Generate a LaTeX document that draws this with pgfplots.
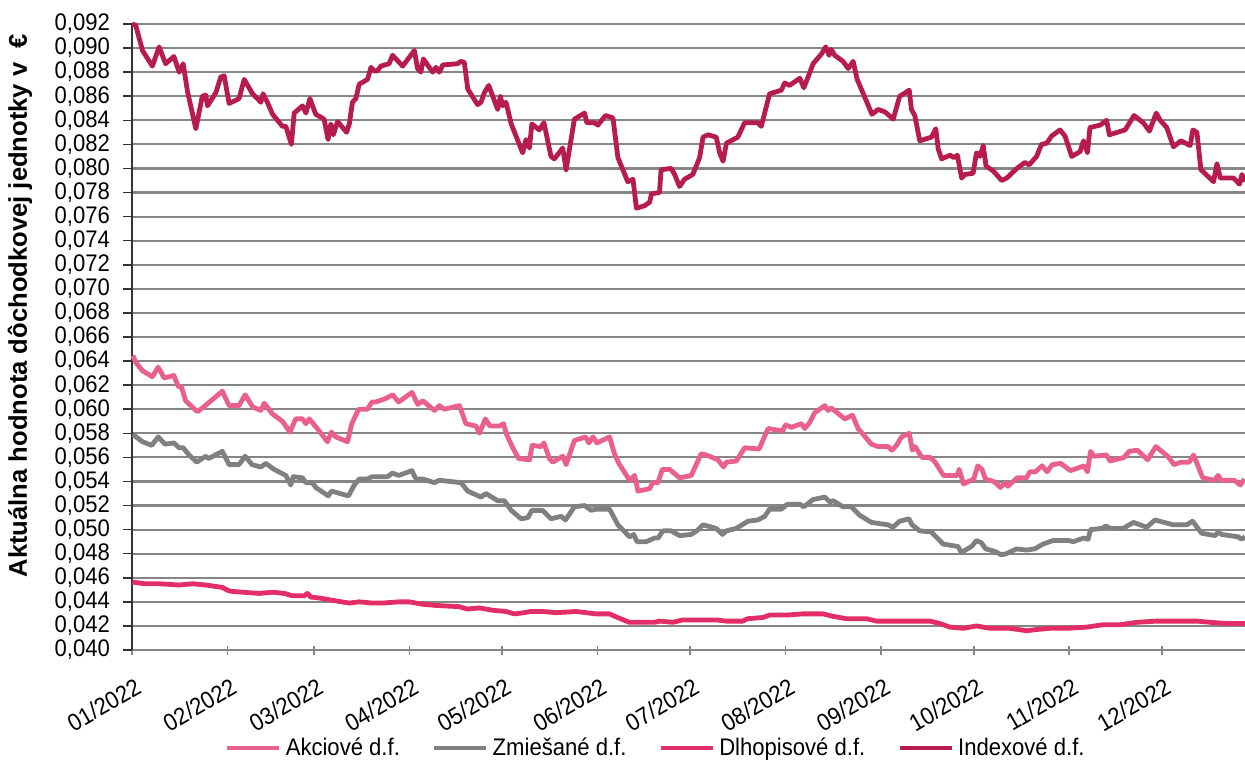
\documentclass[border=0pt]{standalone}
\usepackage{fontspec}
\setmainfont{Liberation Sans}[FakeStretch=0.92]
\newfontfamily\lblfont{Liberation Sans}
\usepackage{pgfplots}
\pgfplotsset{compat=1.18}
\definecolor{akc}{RGB}{234,96,140}
\definecolor{zmi}{RGB}{128,128,128}
\definecolor{dlh}{RGB}{226,45,102}
\definecolor{idx}{RGB}{183,28,76}
\definecolor{gridc}{RGB}{134,134,134}
\newcommand{\cf}{\fontsize{12}{14}\selectfont}
\begin{document}
\begin{tikzpicture}
\begin{axis}[
  scale only axis, width=556.5pt, height=313pt,
  xmin=0, xmax=361, ymin=0.040, ymax=0.092,
  clip=false,
  axis x line*=bottom, axis y line*=left,
  x axis line style={draw=gridc, line width=1pt},
  y axis line style={draw=black!80, line width=0.8pt},
  xtick={0,31,59,90,120,151,181,212,243,273,304,334},
  xticklabels={01/2022,02/2022,03/2022,04/2022,05/2022,06/2022,07/2022,08/2022,09/2022,10/2022,11/2022,12/2022},
  ytick distance=0.002,
  scaled y ticks=false,
  ymajorgrids, major grid style={draw=gridc, line width=1.1pt},
  tick align=outside, major tick length=4.5pt,
  x tick style={draw=gridc, line width=0.8pt, yshift=2.2pt},
  y tick style={draw=black!80, line width=0.8pt},
  xticklabel style={yshift=-7.5pt, xshift=1.5pt, rotate=30, anchor=north east, font=\cf, inner sep=1pt},
  yticklabel style={xshift=-3pt, font=\cf, /pgf/number format/.cd, fixed, fixed zerofill, precision=3, use comma, assume math mode=true},
  ylabel={\bfseries Aktuálna hodnota dôchodkovej jednotky v\ \ €},
  ylabel style={font=\lblfont\fontsize{12.8}{15}\selectfont, at={(axis description cs:-0.1006,0.55)}, anchor=center},
  legend columns=4,
  legend cell align=left,
  legend style={draw=none, fill=none, font=\cf, at={(axis description cs:0.4715,-0.1565)}, anchor=center,
    /tikz/every even column/.append style={column sep=14pt}},
  legend image code/.code={\draw[#1] (0pt,0pt) -- (26pt,0pt);},
  every axis plot/.append style={line width=2.4pt, line join=round},
]
\addplot[akc] coordinates {
(0.3,0.06446)(1.2,0.0639)(3.4,0.0632)(6.6,0.0627)(8.5,0.0635)(10.4,0.0626)(13.6,0.0628)(15.0,0.0619)(16.1,0.0618)(17.4,0.0607)(21.2,0.0598)(22.8,0.0601)(26.1,0.0608)(29.3,0.0615)(31.5,0.0603)(34.7,0.0603)(36.7,0.0612)(39.1,0.0602)(41.8,0.0599)(42.9,0.0605)(45.6,0.0596)(48.8,0.0590)(51.2,0.0581)(53.1,0.0592)(55.3,0.0592)(56.4,0.0588)(57.5,0.0592)(60.7,0.0582)(63.4,0.0573)(64.7,0.0581)(66.1,0.0577)(69.9,0.0573)(71.3,0.0588)(73.5,0.0600)(76.4,0.0600)(77.8,0.0606)(79.1,0.0606)(82.4,0.0609)(84.5,0.0612)(86.5,0.0606)(90.8,0.0614)(92.7,0.0604)(94.3,0.0607)(98.1,0.0599)(99.7,0.0603)(101.3,0.0600)(106.2,0.0603)(108.3,0.0588)(111.6,0.0586)(112.7,0.0580)(114.6,0.0592)(116.1,0.0586)
(119.2,0.0586)(120.5,0.0588)(121.5,0.0579)(123.5,0.0568)(125.4,0.0559)(128.9,0.0558)(129.8,0.0570)(132.7,0.0569)(133.6,0.0572)(135.4,0.0559)(136.5,0.0556)(139.7,0.0561)(140.8,0.0554)(143.5,0.0574)(147.1,0.0577)(148.2,0.0572)(149.5,0.0577)(150.8,0.0572)(154.9,0.0577)(156.5,0.0563)(157.9,0.0555)(161.4,0.0541)(163.0,0.0545)(164.1,0.0532)(167.9,0.0534)(168.9,0.0539)(170.6,0.0539)(172.0,0.0550)(174.4,0.0550)(177.6,0.0543)(181.4,0.0545)(183.0,0.0554)(184.6,0.0563)(186.3,0.0562)(190.0,0.0558)(191.9,0.0552)(192.8,0.0556)(196.0,0.0557)(198.7,0.0568)(203.4,0.0567)(206.3,0.0584)(211.0,0.0582)(212.0,0.0587)(213.9,0.0585)(217.1,0.0588)(218.2,0.0584)(219.8,0.0589)(221.4,0.0597)(224.7,0.0603)(225.8,0.0599)(226.8,0.0601)(231.2,0.0592)(233.7,0.0595)(235.5,0.0584)(239.8,0.0571)(242.0,0.0569)
(245.2,0.0569)(246.4,0.0566)(248.0,0.0570)(249.6,0.0577)(252.1,0.0580)(253.1,0.0566)(254.0,0.0569)(256.2,0.0560)(258.9,0.0560)(260.5,0.0556)(263.2,0.0545)(267.6,0.0545)(268.3,0.0550)(269.7,0.0538)(273.0,0.0542)(274.3,0.0553)(275.7,0.0550)(276.8,0.0542)(279.5,0.0540)(281.7,0.0535)(283.3,0.0539)(284.1,0.0536)(287.1,0.0543)(290.1,0.0543)(291.2,0.0548)(293.0,0.0548)(295.2,0.0553)(296.8,0.0548)(298.5,0.0554)(301.2,0.0555)(304.4,0.0549)(308.8,0.0553)(309.9,0.0548)(310.9,0.0565)(312.0,0.0561)(316.1,0.0562)(317.2,0.0557)(321.8,0.0560)(323.4,0.0565)(326.1,0.0566)(329.4,0.0558)(332.1,0.0569)(335.9,0.0561)(338.0,0.0554)(340.2,0.0556)(342.9,0.0556)(344.3,0.0562)(347.3,0.0543)(351.0,0.0541)(352.3,0.0545)(353.2,0.0541)(357.5,0.0541)(359.5,0.0537)(360.8,0.0542)
};
\addlegendentry{Akciové d.f.}
\addplot[zmi] coordinates {
(0.3,0.0579)(3.4,0.0573)(6.4,0.0570)(8.5,0.0577)(10.7,0.0571)(13.6,0.0572)(15.3,0.0568)(16.6,0.0568)(18.5,0.0562)(21.0,0.0556)(23.9,0.0561)(24.8,0.0559)(29.3,0.0565)(31.5,0.0554)(34.7,0.0554)(36.7,0.0561)(38.9,0.0554)(41.8,0.0552)(43.4,0.0555)(46.1,0.0550)(49.9,0.0545)(51.5,0.0537)(52.3,0.0544)(55.3,0.0543)(56.4,0.0539)(58.5,0.0539)(59.6,0.0535)(63.7,0.0528)(64.7,0.0532)(66.1,0.0531)(70.2,0.0528)(72.1,0.0537)(73.7,0.0542)(76.4,0.0542)(77.8,0.0544)(82.9,0.0544)(84.5,0.0547)(86.5,0.0545)(90.8,0.0549)(92.1,0.0542)(94.3,0.0542)(98.1,0.0539)(99.7,0.0541)(106.7,0.0539)(108.9,0.0532)(113.2,0.0527)(114.8,0.0530)(118.6,0.0524)
(120.8,0.0524)(123.0,0.0516)(126.2,0.0509)(128.4,0.0510)(129.7,0.0516)(133.2,0.0516)(135.9,0.0509)(139.2,0.0511)(140.6,0.0508)(143.5,0.0519)(146.8,0.0520)(148.9,0.0516)(150.5,0.0517)(154.9,0.0517)(157.6,0.0504)(161.4,0.0494)(162.7,0.0496)(163.8,0.0490)(166.8,0.0490)(169.5,0.0493)(170.6,0.0493)(172.2,0.0499)(174.9,0.0499)(177.6,0.0495)(181.4,0.0496)(183.2,0.0499)(185.2,0.0504)(189.5,0.0501)(191.5,0.0496)(192.8,0.0499)(196.0,0.0501)(199.8,0.0507)(203.0,0.0508)(205.2,0.0511)(206.8,0.0517)(210.6,0.0517)(212.5,0.0521)(216.6,0.0521)(217.9,0.0519)(220.9,0.0525)(224.7,0.0527)(226.3,0.0523)(227.4,0.0524)(230.6,0.0519)(233.3,0.0519)(236.0,0.0512)(239.8,0.0506)(242.5,0.0505)
(245.2,0.0504)(246.8,0.0502)(249.0,0.0507)(252.0,0.0509)(253.0,0.0504)(255.5,0.0499)(259.3,0.0498)(260.4,0.0495)(263.1,0.0488)(267.9,0.0486)(269.0,0.0481)(272.3,0.0486)(273.9,0.0491)(275.5,0.0489)(276.9,0.0484)(279.8,0.0482)(282.0,0.0479)(283.6,0.0480)(286.9,0.0484)(290.1,0.0483)(292.8,0.0484)(295.5,0.0488)(298.8,0.0491)(303.6,0.0491)(305.3,0.0490)(308.7,0.0493)(310.1,0.0492)(310.9,0.0500)(314.5,0.0501)(315.9,0.0503)(317.2,0.0501)(321.5,0.0501)(324.8,0.0506)(329.1,0.0502)(331.8,0.0508)(337.7,0.0504)(342.1,0.0504)(344.0,0.0507)(346.9,0.0497)(351.3,0.0495)(352.3,0.0498)(353.4,0.0496)(358.8,0.0494)(359.9,0.0492)(361.0,0.0494)
};
\addlegendentry{Zmiešané d.f.}
\addplot[dlh] coordinates {
(0.1,0.04564)(4.4,0.0455)(8.8,0.0455)(15.3,0.0454)(19.6,0.0455)(23.9,0.0454)(29.3,0.0452)(31.5,0.0449)(35.8,0.0448)(41.2,0.0447)(45.6,0.0448)(49.4,0.0447)(52.1,0.0445)(55.8,0.0445)(56.9,0.0447)(58.0,0.0444)(61.3,0.0443)(65.6,0.0441)(70.5,0.0439)(73.7,0.0440)(78.0,0.0439)(81.3,0.0439)(86.7,0.0440)(89.9,0.0440)(94.3,0.0438)(98.6,0.0437)(106.1,0.0436)(108.8,0.0434)(112.6,0.0435)(117.0,0.0433)(121.3,0.0432)(124.0,0.0430)(127.2,0.0431)(129.4,0.0432)(133.2,0.0432)(137.5,0.0431)(144.0,0.0432)(150.5,0.0430)(154.8,0.0430)(157.5,0.0427)(161.3,0.0423)(165.7,0.0423)(169.4,0.0423)(171.1,0.0424)(175.4,0.0423)(178.6,0.0425)(184.1,0.0425)(189.5,0.0425)(192.7,0.0424)(198.1,0.0424)(199.7,0.0426)(204.6,0.0427)(206.8,0.0429)(212.2,0.0429)(217.6,0.0430)(224.1,0.0430)(227.3,0.0428)(231.7,0.0426)(235.5,0.0426)(238.2,0.0426)(241.5,0.0424)(248.0,0.0424)(254.4,0.0424)(258.8,0.0424)(262.0,0.0422)(265.3,0.0419)(269.6,0.0418)(273.9,0.0420)(278.3,0.0418)(284.7,0.0418)(290.2,0.0416)(293.4,0.0417)(297.7,0.0418)(303.2,0.0418)(309.6,0.0419)(315.0,0.0421)(320.5,0.0421)(325.9,0.0423)(332.4,0.0424)(337.8,0.0424)(345.4,0.0424)(349.7,0.0423)(355.2,0.0422)(361.0,0.0422)
};
\addlegendentry{Dlhopisové d.f.}
\addplot[idx] coordinates {
(0,0.0920)(1.2,0.0919)(3.4,0.0898)(6.6,0.0885)(8.8,0.0901)(10.9,0.0887)(13.6,0.0893)(15.3,0.0880)(16.6,0.0887)(18.0,0.0864)(20.7,0.0833)(22.8,0.0860)(23.9,0.0861)(24.5,0.0852)(27.2,0.0863)(28.8,0.0876)(29.9,0.0877)(31.5,0.0854)(34.7,0.0858)(36.4,0.0874)(39.1,0.0862)(41.8,0.0855)(42.5,0.0862)(43.9,0.0855)(45.6,0.0845)(48.8,0.0835)(49.9,0.0835)(51.7,0.0820)(52.6,0.0846)(55.3,0.0852)(56.4,0.0846)(57.7,0.0858)(59.6,0.0845)(62.3,0.0841)(63.6,0.0824)(64.5,0.0837)(65.3,0.0828)(66.7,0.0839)(69.6,0.0830)(70.5,0.0837)(71.5,0.0855)(72.6,0.0858)(73.7,0.0870)(76.4,0.0874)(77.5,0.0884)(78.6,0.0881)(79.6,0.0881)(80.7,0.0885)(83.4,0.0887)(84.5,0.0894)(85.6,0.0891)(87.8,0.0885)(91.6,0.0898)(92.6,0.0883)(93.7,0.0880)(94.5,0.0891)(97.5,0.0880)(98.6,0.0884)(99.7,0.0880)(100.8,0.0886)(105.6,0.0887)(106.7,0.0889)(107.8,0.0888)(108.9,0.0866)(112.1,0.0853)(113.2,0.0855)(114.3,0.0863)(115.7,0.0869)(118.6,0.0849)(119.5,0.0860)(120.2,0.0852)(121.3,0.0855)(123.0,0.0837)(126.7,0.0813)(127.8,0.0824)(128.9,0.0817)(129.7,0.0837)(132.1,0.0832)(133.6,0.0838)(135.9,0.0810)(137.0,0.0808)(139.7,0.0817)(140.8,0.0799)(143.5,0.0841)(146.8,0.0846)(147.5,0.0838)(150.0,0.0838)(151.1,0.0836)(153.6,0.0844)(156.0,0.0842)(157.6,0.0809)(160.8,0.0789)(162.5,0.0791)(163.6,0.0767)(166.2,0.0769)(167.9,0.0772)(168.5,0.0779)(171.1,0.0780)(171.6,0.0799)(174.9,0.0800)(176.0,0.0795)(177.6,0.0785)(179.2,0.0791)(181.9,0.0795)(184.1,0.0809)(185.2,0.0826)(186.8,0.0828)(189.5,0.0826)(190.6,0.0813)(191.7,0.0806)(192.8,0.0821)(196.5,0.0826)(198.7,0.0838)(203.0,0.0838)(204.1,0.0835)(205.7,0.0851)(206.8,0.0862)(210.6,0.0865)(211.7,0.0871)(213.3,0.0869)(216.6,0.0875)(217.9,0.0867)(219.3,0.0876)(220.9,0.0887)(223.6,0.0895)(225.0,0.0901)(226.1,0.0894)(226.8,0.0899)(227.9,0.0894)(230.6,0.0889)(232.3,0.0883)(233.9,0.0889)(235.2,0.0874)(237.7,0.0859)(240.0,0.0845)(242.0,0.0849)(244.2,0.0847)(246.9,0.0841)(249.0,0.0860)(252.1,0.0865)(252.8,0.0849)(253.9,0.0844)(255.5,0.0823)(259.3,0.0826)(260.7,0.0833)(261.5,0.0816)(262.6,0.0808)(265.3,0.0811)(266.6,0.0809)(267.7,0.0811)(269.1,0.0792)(270.1,0.0795)(272.8,0.0796)(273.9,0.0813)(275.0,0.0810)(276.1,0.0819)(277.0,0.0802)(279.3,0.0798)(282.1,0.0790)(283.7,0.0792)(287.0,0.0800)(289.6,0.0805)(291.0,0.0803)(293.4,0.0810)(295.0,0.0820)(296.7,0.0821)(298.3,0.0827)(301.0,0.0832)(302.6,0.0827)(304.8,0.0810)(307.5,0.0814)(308.6,0.0823)(309.9,0.0813)(310.7,0.0834)(314.0,0.0836)(316.1,0.0840)(317.0,0.0828)(322.1,0.0832)(325.0,0.0844)(328.0,0.0838)(330.0,0.0831)(332.2,0.0846)(333.5,0.0840)(335.6,0.0834)(337.8,0.0818)(340.2,0.0823)(343.2,0.0819)(344.1,0.0832)(345.4,0.0830)(346.7,0.0799)(350.8,0.0789)(351.9,0.0804)(353.0,0.0792)(357.3,0.0792)(359.2,0.0787)(360.0,0.0795)(361.0,0.0789)
};
\addlegendentry{Indexové d.f.}
\coordinate (bl) at (rel axis cs:0,0);
\coordinate (tr) at (rel axis cs:1,1);
\end{axis}
\pgfresetboundingbox
\path ([xshift=-66pt,yshift=-55pt]bl) rectangle ([yshift=12pt]tr);
\end{tikzpicture}
\end{document}
